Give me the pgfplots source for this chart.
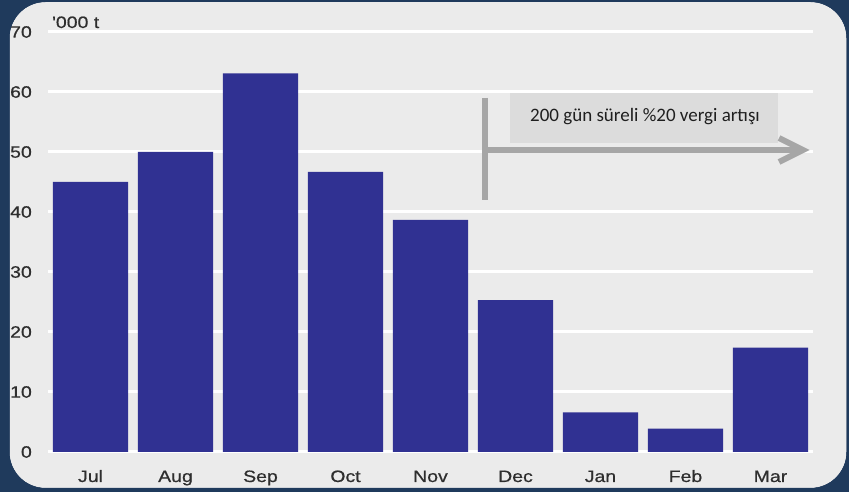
\documentclass[border=0pt]{standalone}
\usepackage{fontspec}
\usepackage{pgfplots}
\pgfplotsset{compat=1.18}
\setmainfont{Liberation Sans}
\newfontfamily\chartfont[FakeStretch=1.18, FakeBold=0.6]{Liberation Sans}
\newfontfamily\notefont{Carlito}
\definecolor{navybg}{HTML}{1F3A5C}
\definecolor{panel}{HTML}{EBEBEB}
\definecolor{barblue}{HTML}{303192}
\definecolor{annot}{HTML}{A6A6A6}
\definecolor{notebox}{HTML}{DCDCDC}
\definecolor{txt}{HTML}{2E2E2E}
\begin{document}
\begin{tikzpicture}[x=1pt,y=1pt]
\fill[navybg] (0,0) rectangle (849,492);
\fill[panel, rounded corners=36pt] (9.5,4) rectangle (846.5,490);
\begin{axis}[
  at={(48pt,40pt)}, anchor=south west,
  scale only axis, width=765pt, height=420pt,
  xmin=-0.5, xmax=8.5, ymin=0, ymax=70,
  ytick={0,10,...,70},
  xtick={0,...,8},
  xticklabels={Jul,Aug,Sep,Oct,Nov,Dec,Jan,Feb,Mar},
  axis line style={draw=none},
  major tick length=0pt,
  ymajorgrids, grid style={white, line width=3pt},
  tick label style={font=\chartfont\fontsize{16.5}{19}\selectfont, text=txt},
  yticklabel style={anchor=east, inner sep=0pt, xshift=-16pt},
  xticklabel style={anchor=base, inner sep=0pt, yshift=-30pt},
  /pgf/number format/assume math mode=true,
  ybar, bar width=75pt, bar shift=0pt,
  clip=false,
]
\addplot[fill=barblue, draw=none] coordinates {
  (0,45) (1,50) (2,63.1) (3,46.7) (4,38.7) (5,25.3) (6,6.6) (7,3.9) (8,17.4)
};
\end{axis}
% annotation
\fill[notebox] (510,349) rectangle (778,399);
\node[font=\notefont\fontsize{19}{22}\selectfont, text=black!88, inner sep=0pt] at (645,375) {200 gün süreli \%20 vergi artışı};
\draw[annot, line width=6pt] (485,394) -- (485,292);
\draw[annot, line width=6pt] (485,342) -- (802,342);
\draw[annot, line width=6pt, line cap=butt, line join=miter] (779,354) -- (803,342) -- (779,330);
\node[font=\chartfont\fontsize{16.5}{19}\selectfont, text=txt, anchor=base west, inner sep=0pt] at (52,464) {'000 t};
% outer frame over everything
\fill[navybg, even odd rule] (0,0) rectangle (849,492) [rounded corners=36pt] (9.5,4) rectangle (846.5,490);
\pgfresetboundingbox
\path (0,0) rectangle (849,492);
\end{tikzpicture}
\end{document}
